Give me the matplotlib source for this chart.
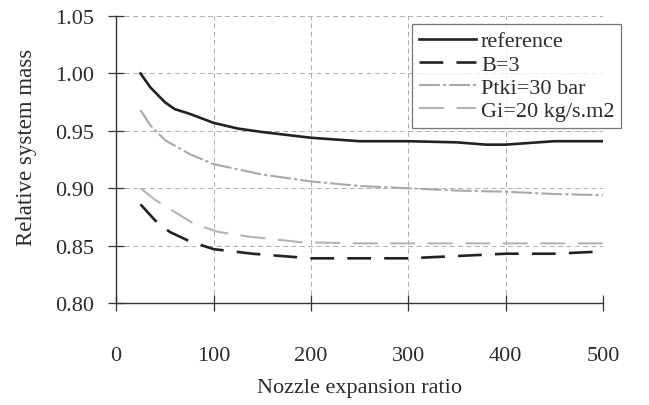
import matplotlib.pyplot as plt

# Relative system mass vs nozzle expansion ratio
ratio_ref = [25, 35, 50, 60, 75, 100, 125, 150, 200, 250, 300, 350, 380, 400, 450, 500]
mass_ref = [1.000, 0.988, 0.975, 0.969, 0.965, 0.957, 0.952, 0.949, 0.944, 0.941, 0.941, 0.940, 0.938, 0.938, 0.941, 0.941]

ratio_b3 = [25, 40, 55, 75, 100, 140, 200, 250, 300, 350, 400, 450, 500]
mass_b3 = [0.886, 0.872, 0.862, 0.854, 0.847, 0.843, 0.839, 0.839, 0.839, 0.841, 0.843, 0.843, 0.845]

ratio_ptki = [25, 35, 50, 75, 100, 150, 200, 250, 300, 350, 400, 450, 500]
mass_ptki = [0.968, 0.955, 0.942, 0.930, 0.921, 0.912, 0.906, 0.902, 0.900, 0.898, 0.897, 0.895, 0.894]

ratio_gi = [25, 40, 55, 80, 105, 135, 190, 250, 300, 350, 400, 450, 500]
mass_gi = [0.900, 0.890, 0.882, 0.869, 0.862, 0.858, 0.853, 0.852, 0.852, 0.852, 0.852, 0.852, 0.852]

x_ticks = [0, 100, 200, 300, 400, 500]
y_ticks = [0.80, 0.85, 0.90, 0.95, 1.00, 1.05]

plt.rcParams['font.family'] = ['Liberation Serif', 'DejaVu Serif']
text_col = '#2b2b2b'

fig = plt.figure(figsize=(6.49, 4.06), dpi=100)
ax = fig.add_axes([0.179, 0.251, 0.750, 0.707])

ax.plot(ratio_ref, mass_ref, color='#222222', lw=1.9, label='reference')
ax.plot(ratio_b3, mass_b3, color='#222222', lw=1.9, dashes=(9, 5), label='B=3')
ax.plot(ratio_ptki, mass_ptki, color='#a8a8a8', lw=1.5, dashes=(10, 1.5, 1.5, 1.5), label='Ptki=30 bar')
ax.plot(ratio_gi, mass_gi, color='#b4b4b4', lw=1.5, dashes=(12, 6), label='Gi=20 kg/s.m2')

ax.set_xlim(0, 500)
ax.set_ylim(0.80, 1.05)
ax.set_xticks(x_ticks)
ax.set_yticks(y_ticks)
ax.set_yticklabels(['%.2f' % v for v in y_ticks])
ax.grid(True, color='#a0a0a0', lw=0.6, linestyle=(0, (6, 4)))
ax.set_axisbelow(True)

for side in ['top', 'right']:
    ax.spines[side].set_visible(False)
for side in ['left', 'bottom']:
    ax.spines[side].set_color('#333333')
    ax.spines[side].set_linewidth(1.0)

ax.tick_params(direction='inout', length=12, width=0.9, colors='#333333',
               labelsize=16, labelcolor=text_col)
ax.tick_params(axis='y', pad=10)
ax.tick_params(axis='x', pad=25)

ax.set_xlabel('Nozzle expansion ratio', fontsize=16, color=text_col, labelpad=9)
ax.set_ylabel('Relative system mass', fontsize=16.5, color=text_col)
ax.yaxis.set_label_coords(-0.163, 0.545)

leg = ax.legend(loc='upper right', bbox_to_anchor=(0.957, 0.938),
                bbox_transform=fig.transFigure, fontsize=16, frameon=True,
                fancybox=False, handlelength=2.6, handletextpad=0.2,
                borderpad=0.3, labelspacing=0.12, borderaxespad=0)
leg.get_frame().set_edgecolor('#555555')
leg.get_frame().set_linewidth(0.9)
for t in leg.get_texts():
    t.set_color(text_col)

fig.savefig('out.png', dpi=100)
